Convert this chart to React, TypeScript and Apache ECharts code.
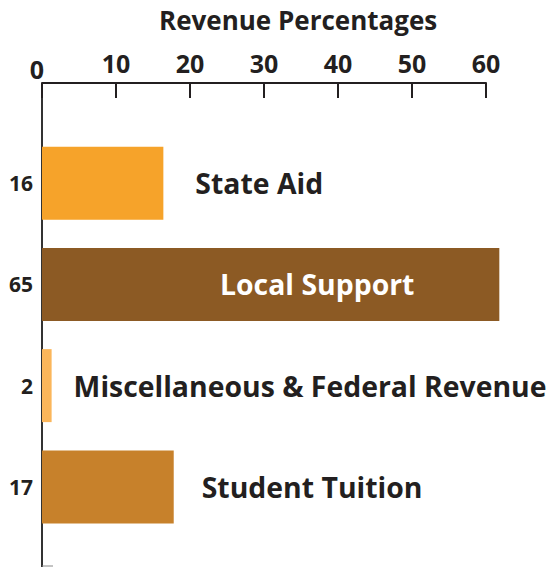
import React, { useEffect, useRef } from "react";
import * as echarts from "echarts";

const categories = ["State Aid", "Local Support", "Miscellaneous & Federal Revenue", "Student Tuition"];
const percentLabels = ["16", "65", "2", "17"];
const barValues = [16.4, 61.8, 1.3, 17.8];
const barColors = ["#F6A32A", "#8C5A24", "#FBB65B", "#C7812B"];
const xMin = 0;
const xMax = 60;
const xStep = 10;
const titleText = "Revenue Percentages";

const labelStyles = [
  { position: "right", distance: 32, color: "#231F20" },
  { position: "insideLeft", distance: 178, color: "#FFFFFF" },
  { position: "right", distance: 22, color: "#231F20" },
  { position: "right", distance: 28, color: "#231F20" },
];

const FONT = "Open Sans";

export default function App() {
  const ref = useRef<HTMLDivElement>(null);
  useEffect(() => {
    if (!ref.current) return;
    const chart = echarts.init(ref.current, null, { renderer: "svg" });
    const gridLeft = 42;
    const axisY = 83;
    const gridTop = 132.5;
    chart.setOption({
      animation: false,
      backgroundColor: "#FFFFFF",
      title: {
        text: titleText,
        left: 154,
        top: 2,
        textStyle: { fontFamily: FONT, fontWeight: "bold", fontSize: 26, color: "#231F20" },
      },
      grid: { left: gridLeft, right: 64, top: gridTop, height: 405 },
      xAxis: {
        type: "value",
        position: "top",
        min: xMin,
        max: xMax,
        interval: xStep,
        offset: gridTop - axisY,
        splitLine: { show: false },
        axisLine: { show: true, lineStyle: { color: "#231F20", width: 2 } },
        axisTick: { show: true, inside: true, length: 15, lineStyle: { color: "#231F20", width: 2 } },
        axisLabel: {
          fontFamily: FONT,
          fontWeight: "bold",
          fontSize: 25,
          color: "#231F20",
          margin: 8,
          formatter: (v: number) => (v === xMin ? "{z|" + v + "}" : String(v)),
          rich: {
            z: { fontFamily: FONT, fontWeight: "bold", fontSize: 25, color: "#231F20", lineHeight: 13, padding: [0, 10, 0, 0] },
          },
        },
      },
      yAxis: {
        type: "category",
        inverse: true,
        data: percentLabels,
        axisLine: { show: false },
        axisTick: { show: false },
        axisLabel: { fontFamily: FONT, fontWeight: "bold", fontSize: 21, color: "#231F20", margin: 9 },
      },
      graphic: [
        { type: "line", shape: { x1: gridLeft, y1: axisY, x2: gridLeft, y2: 567 }, style: { stroke: "#333333", lineWidth: 2 } },
        { type: "line", shape: { x1: gridLeft, y1: 566, x2: gridLeft + 11, y2: 566 }, style: { stroke: "#888888", lineWidth: 1 } },
      ],
      series: [
        {
          type: "bar",
          clip: false,
          barWidth: 73,
          data: barValues.map((v, i) => ({
            value: v,
            itemStyle: { color: barColors[i] },
            label: {
              show: true,
              position: labelStyles[i].position,
              distance: labelStyles[i].distance,
              color: labelStyles[i].color,
              formatter: categories[i],
              fontFamily: FONT,
              fontWeight: "bold",
              fontSize: 28.4,
            },
          })),
        },
      ],
    });
    return () => chart.dispose();
  }, []);
  return <div ref={ref} style={{ position: "fixed", left: 0, top: 0, width: 550, height: 567 }} />;
}
